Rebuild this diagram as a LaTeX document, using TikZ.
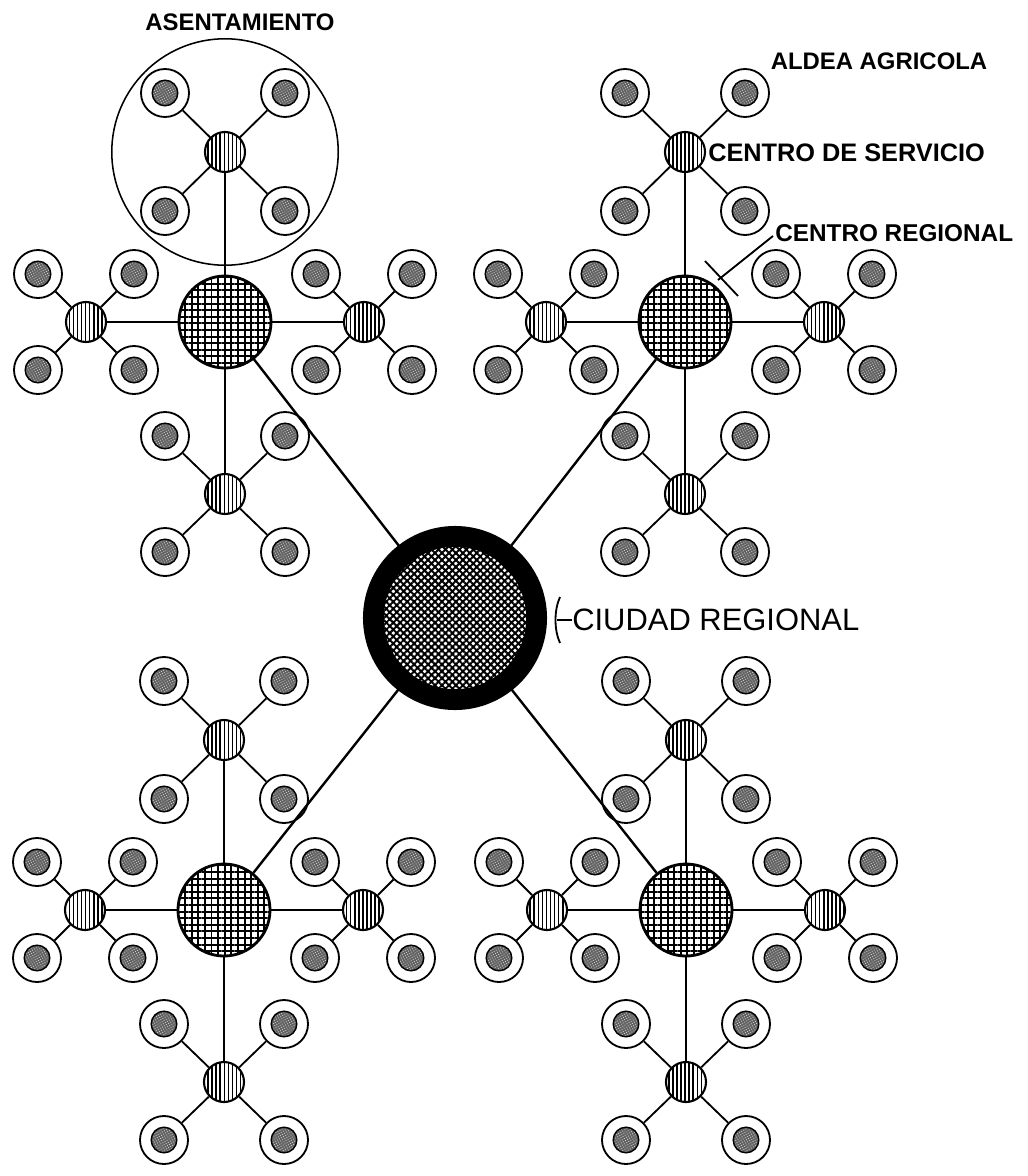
\documentclass[tikz,border=0pt]{standalone}
\usepackage{fontspec}
\setmainfont{Liberation Sans}
\usetikzlibrary{calc,patterns.meta}
\tikzset{
  village/.style={circle, draw, line width=1.3pt, fill=white, minimum size=1.2cm, inner sep=0pt,
    path picture={
      \filldraw[line width=1pt, fill=black!62] (path picture bounding box.center) circle (0.32cm);
      \fill[pattern={Dots[radius=0.45pt, distance=1.7pt, angle=30]}, pattern color=black!20]
        (path picture bounding box.center) circle (0.29cm);}},
  service/.style={circle, draw, line width=1.5pt, minimum size=1cm, inner sep=0pt,
    pattern={Lines[angle=90, distance=2.9pt, line width=1.1pt]}},
  regional/.style={circle, draw, line width=2pt, minimum size=2.3cm, inner sep=0pt,
    pattern={Hatch[angle=0, distance=4.7pt, line width=1.4pt]}},
  city/.style={circle, draw, line width=0.52cm, minimum size=4.08cm, inner sep=0pt,
    pattern={Hatch[angle=45, distance=3.5pt, line width=1.4pt]}},
  link/.style={line width=1.7pt},
  twig/.style={line width=1.3pt},
  tagtext/.style={inner sep=0pt}
}
% a service centre with its four farm villages
\newcommand{\servicecluster}[4]{%
  \node[service] (#1) at #2 {};
  \foreach \sx/\sy [count=\k] in {-1/-1, 1/-1, -1/1, 1/1}{
    \node[village] (#1-\k) at ($(#1)+(\sx*#3,\sy*#4)$) {};
    \draw[twig] (#1) -- (#1-\k);
  }%
}
% a regional centre with its four service centres
\newcommand{\regioncluster}[2]{%
  \node[regional] (#1) at #2 {};
  \servicecluster{#1u}{($(#1)+(0,-170)$)}{60}{59}
  \servicecluster{#1d}{($(#1)+(0,172)$)}{60}{58}
  \servicecluster{#1l}{($(#1)+(-139,0)$)}{48}{48}
  \servicecluster{#1r}{($(#1)+(139,0)$)}{48}{48}
  \foreach \s in {u,d,l,r}{
    \draw[link] (#1) -- (#1\s);
  }%
}

\begin{document}
\begin{tikzpicture}[x=0.025cm, y=-0.025cm]

  % page frame
  \useasboundingbox (0,0) rectangle (1027,1176);

  % regional city
  \node[city] (ciudad) at (455,618) {};

  % regional centres
  \regioncluster{tl}{(225,322)}
  \regioncluster{tr}{(685,322)}
  \regioncluster{bl}{(224,910)}
  \regioncluster{br}{(686,910)}

  \foreach \r in {tl,tr,bl,br}{
    \draw[link] (ciudad) -- (\r);
  }

  % settlement ring
  \draw[line width=1.1pt] (tlu) circle (2.83cm);

  % labels
  \node[tagtext, font=\bfseries\fontsize{17}{20}\selectfont] (asent) at (240,22) {ASENTAMIENTO};
  \node[tagtext, font=\bfseries\fontsize{17}{20}\selectfont] (aldea) at (879,61) {ALDEA AGRICOLA};
  \node[tagtext, anchor=west, font=\bfseries\fontsize{18}{21}\selectfont] (cserv) at (708,153) {CENTRO DE SERVICIO};
  \node[tagtext, anchor=west, font=\bfseries\fontsize{17.3}{20}\selectfont] (creg) at (775,233) {CENTRO REGIONAL};
  \node[tagtext, anchor=west, font=\fontsize{22}{26}\selectfont] (cciud) at (572,620) {CIUDAD REGIONAL};

  % pointers
  \coordinate (cr-tip) at (718,280);
  \coordinate (cr-a) at (705,261);
  \coordinate (cr-b) at (738,296);
  \draw[twig] ($(creg.west)+(-2,3)$) -- (cr-tip);
  \draw[twig] (cr-a) -- (cr-b);

  \coordinate (cc-tip) at (557,620);
  \draw[twig] (cciud.west) -- (cc-tip);
  \draw[twig] (560,597) .. controls (554,610) and (554,630) .. (560,643);

\end{tikzpicture}
\end{document}
